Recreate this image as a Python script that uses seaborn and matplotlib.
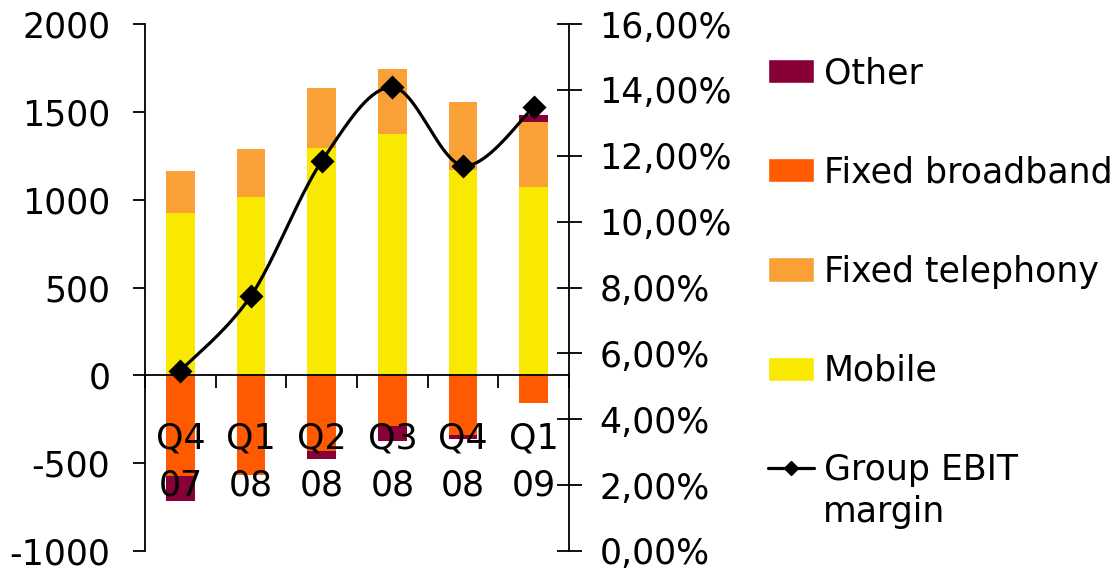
import numpy as np
import pandas as pd
import matplotlib
matplotlib.use("Agg")
import matplotlib.pyplot as plt
from matplotlib.ticker import FuncFormatter, FixedLocator
from matplotlib.patches import Patch
from matplotlib.lines import Line2D
import seaborn as sns

sns.set_theme(style="white")
plt.rcParams["font.family"] = ["DejaVu Sans"]
plt.rcParams["axes.unicode_minus"] = False
plt.rcParams["text.color"] = "black"

# Quarterly EBIT contribution by segment and group EBIT margin
quarters = ["Q4\n07", "Q1\n08", "Q2\n08", "Q3\n08", "Q4\n08", "Q1\n09"]
mobile = [922, 1017, 1295, 1375, 1170, 1074]
fixed_telephony = [243, 273, 341, 369, 387, 369]
fixed_broadband = [-574, -566, -432, -288, -341, -157]
other = [-140, 0, -44, -85, -23, 40]
ebit_margin = [5.47, 7.75, 11.83, 14.08, 11.70, 13.47]  # percent

left_ticks = [-1000, -500, 0, 500, 1000, 1500, 2000]
right_ticks = [0, 2, 4, 6, 8, 10, 12, 14, 16]

c_other = "#870038"
c_broadband = "#FF5A00"
c_telephony = "#F9A036"
c_mobile = "#F9E800"

FS = 25

df = pd.DataFrame({
    "quarter": quarters,
    "mobile": mobile,
    "telephony": fixed_telephony,
    "broadband": fixed_broadband,
    "other": other,
})
# cumulative stack edges, drawn back-to-front
df["pos_top"] = df["mobile"] + df["telephony"] + df["other"].clip(lower=0)
df["pos_mid"] = df["mobile"] + df["telephony"]
df["neg_bottom"] = df["broadband"] + df["other"].clip(upper=0)

fig = plt.figure(figsize=(11.12, 5.74), dpi=100)
ax = fig.add_axes([145 / 1112, 1 - 551 / 574, (569 - 145) / 1112, (551 - 24) / 574])

bw = 0.41
layers = [
    ("pos_top", c_other),
    ("pos_mid", c_telephony),
    ("mobile", c_mobile),
    ("neg_bottom", c_other),
    ("broadband", c_broadband),
]
for col, colr in layers:
    sns.barplot(data=df, x="quarter", y=col, order=quarters, color=colr,
                saturation=1, width=bw, ax=ax, linewidth=0, errorbar=None)

ax.set_xlim(-0.5, len(quarters) - 0.5)
ax.set_ylim(-1000, 2000)
ax.set_xlabel("")
ax.set_ylabel("")
ax.set_axisbelow(False)

for s in ["top", "right"]:
    ax.spines[s].set_visible(False)
ax.spines["bottom"].set_position(("data", 0))
for s in ["left", "bottom"]:
    ax.spines[s].set_color("black")
    ax.spines[s].set_linewidth(1.3)

ax.yaxis.set_major_locator(FixedLocator(left_ticks))
ax.set_yticklabels([str(v) for v in left_ticks])
ax.tick_params(axis="y", which="major", direction="out", length=9, width=1.3,
               color="black", pad=16, labelsize=FS, left=True, labelcolor="black")

ax.set_xticks(range(len(quarters)))
ax.set_xticklabels(quarters)
ax.set_xticks(np.arange(-0.5, len(quarters), 1.0), minor=True)
ax.tick_params(axis="x", which="major", length=0, pad=33, labelsize=FS,
               labelcolor="black", bottom=True)
ax.tick_params(axis="x", which="minor", direction="out", length=9, width=1.3,
               color="black", bottom=True)
for lbl in ax.get_xticklabels():
    lbl.set_linespacing(1.5)
ax.grid(False)

# EBIT margin on the secondary axis, smoothed through the quarterly points
ax2 = ax.twinx()
ax2.set_ylim(0, 16)
xs = np.arange(len(ebit_margin), dtype=float)
ys = np.array(ebit_margin, dtype=float)
px = np.concatenate([[xs[0]], xs, [xs[-1]]])
py = np.concatenate([[ys[0]], ys, [ys[-1]]])
cx, cy = [], []
tt = np.linspace(0, 1, 40)
for i in range(1, len(px) - 2):
    p0, p1, p2, p3 = (np.array([px[j], py[j]]) for j in (i - 1, i, i + 1, i + 2))
    b1 = p1 + (p2 - p0) / 6
    b2 = p2 - (p3 - p1) / 6
    seg = ((1 - tt) ** 3)[:, None] * p1 + (3 * (1 - tt) ** 2 * tt)[:, None] * b1 \
        + (3 * (1 - tt) * tt ** 2)[:, None] * b2 + (tt ** 3)[:, None] * p2
    cx.extend(seg[:, 0])
    cy.extend(seg[:, 1])
ax2.plot(cx, cy, color="black", lw=2.3, zorder=3)
sns.scatterplot(x=xs, y=ys, marker="D", s=150, color="black", edgecolor="black",
                linewidth=0, ax=ax2, zorder=4, legend=False)

for s in ["top", "left", "bottom"]:
    ax2.spines[s].set_visible(False)
ax2.spines["right"].set_color("black")
ax2.spines["right"].set_linewidth(1.3)
ax2.yaxis.set_major_locator(FixedLocator(right_ticks))
ax2.yaxis.set_major_formatter(FuncFormatter(lambda v, p: f"{v:.2f}%".replace(".", ",")))
ax2.tick_params(axis="y", direction="inout", length=18, width=1.3, color="black",
                pad=13, labelsize=FS, right=True, labelcolor="black")
ax2.set_xlim(-0.5, len(quarters) - 0.5)
ax2.grid(False)

handles = [
    Patch(facecolor=c_other, label="Other"),
    Patch(facecolor=c_broadband, label="Fixed broadband"),
    Patch(facecolor=c_telephony, label="Fixed telephony"),
    Patch(facecolor=c_mobile, label="Mobile"),
    Line2D([0], [0], color="black", lw=2.3, marker="D", markersize=7,
           label="Group EBIT"),
]
fig.legend(handles=handles, loc="upper left", bbox_to_anchor=(768 / 1112, 1 - 56 / 574),
           frameon=False, fontsize=FS, handlelength=1.33, handleheight=0.7,
           handletextpad=0.27, labelspacing=1.88, borderaxespad=0, borderpad=0,
           labelcolor="black")
fig.text(823 / 1112, 1 - 512 / 574, "margin", fontsize=FS, color="black",
         ha="left", va="center")

fig.savefig("out.png", dpi=100)
